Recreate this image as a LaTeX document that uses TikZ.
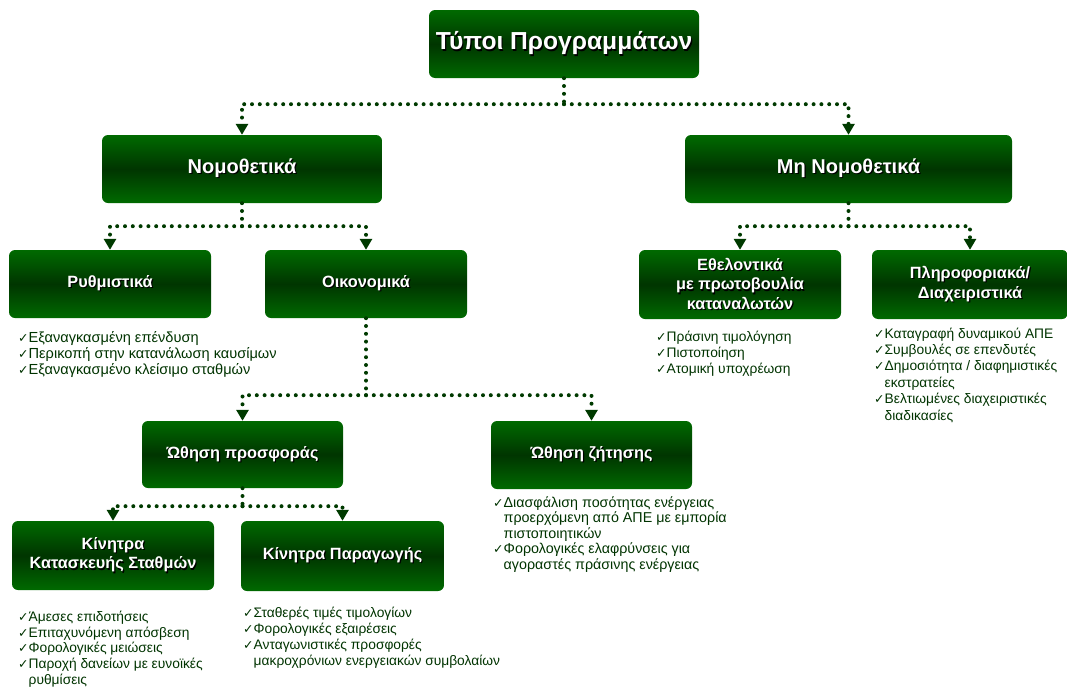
\documentclass[tikz,border=0pt]{standalone}
\usepackage{fontspec}
\setmainfont{Liberation Sans}
\newfontfamily\dv{DejaVu Sans}
\usetikzlibrary{arrows.meta,calc}
\definecolor{gtop}{HTML}{006A00}
\definecolor{gmid}{HTML}{003500}
\definecolor{gtxt}{HTML}{003300}
\definecolor{gdot}{HTML}{003A00}
\newcommand{\sh}[1]{\leavevmode\rlap{\kern1.2pt\raisebox{-1.2pt}{\color{black}#1}}#1}
\newcommand{\ck}{{\dv\fontsize{12.5}{16}\selectfont ✓}}
\newcommand{\ind}{\phantom{\ck}}
\tikzset{
  gbox/.style={rounded corners=6pt, top color=gtop, bottom color=gtop, middle color=gmid,
    text=white, font=\bfseries, align=center, inner sep=0pt},
  dotline/.style={gdot, line width=4pt, line cap=round, dash pattern=on 0pt off 7.8pt,
    -{Triangle[width=12pt,length=11pt,line cap=butt,sep=0pt]}},
  dotseg/.style={gdot, line width=4pt, line cap=round, dash pattern=on 0pt off 7.8pt},
  lst/.style={anchor=north west, align=left, text=gtxt, inner sep=0pt,
    font=\fontsize{13.8}{16}\selectfont},
  sfont/.style={font=\bfseries\fontsize{16.3}{19.5}\selectfont}
}
\begin{document}
\begin{tikzpicture}[x=1pt,y=-1pt]
\useasboundingbox (0,0) rectangle (1067,688);
% boxes
\node[gbox, minimum width=270pt, minimum height=68pt, font=\bfseries\fontsize{24.6}{28}\selectfont] (top) at (564,44) {\sh{Τύποι Προγραμμάτων}};
\node[gbox, minimum width=280pt, minimum height=68pt, font=\bfseries\fontsize{20}{24}\selectfont] (nomo) at (242,169) {\sh{Νομοθετικά}};
\node[gbox, minimum width=327pt, minimum height=68pt, font=\bfseries\fontsize{20}{24}\selectfont] (mnomo) at (848.5,169) {\sh{Μη Νομοθετικά}};
\node[gbox, minimum width=202pt, minimum height=68pt, sfont] (ryth) at (110,284) {\sh{Ρυθμιστικά}};
\node[gbox, minimum width=202pt, minimum height=68pt, sfont] (oik) at (366,284) {\sh{Οικονομικά}};
\node[gbox, minimum width=202pt, minimum height=69pt, sfont] (ethel) at (740,284.5) {\sh{Εθελοντικά}\\\sh{με πρωτοβουλία}\\\sh{καταναλωτών}};
\node[gbox, minimum width=196pt, minimum height=69pt, sfont] (pliro) at (970,284.5) {\sh{Πληροφοριακά/}\\\sh{Διαχειριστικά}};
\node[gbox, minimum width=201pt, minimum height=67pt, sfont] (prosf) at (242.5,454.5) {\sh{Ώθηση προσφοράς}};
\node[gbox, minimum width=201pt, minimum height=68pt, sfont] (zit) at (591.5,455) {\sh{Ώθηση ζήτησης}};
\node[gbox, minimum width=202pt, minimum height=69pt, sfont] (kat) at (113,555.5) {\sh{Κίνητρα}\\\sh{Κατασκευής Σταθμών}};
\node[gbox, minimum width=203pt, minimum height=70pt, sfont] (par) at (342.5,556) {\sh{Κίνητρα Παραγωγής}};
% connectors
\coordinate (j1) at ($(top.south)+(0,26)$);
\draw[dotseg] (top.south) -- (j1);
\draw[dotline] (j1) -| (nomo.north);
\draw[dotline] (j1) -| (mnomo.north);
\coordinate (j2) at ($(nomo.south)+(0,23)$);
\draw[dotseg] (nomo.south) -- (j2);
\draw[dotline] (j2) -| (ryth.north);
\draw[dotline] (j2) -| (oik.north);
\coordinate (j3) at ($(mnomo.south)+(0,23)$);
\draw[dotseg] (mnomo.south) -- (j3);
\draw[dotline] (j3) -| (ethel.north);
\draw[dotline] (j3) -| (pliro.north);
\coordinate (j4) at ($(oik.south)+(0,77)$);
\draw[dotseg] (oik.south) -- (j4);
\draw[dotline] (j4) -| (prosf.north);
\draw[dotline] (j4) -| (zit.north);
\coordinate (j5) at ($(prosf.south)+(0,18)$);
\draw[dotseg] (prosf.south) -- (j5);
\draw[dotline] (j5) -| (kat.north);
\draw[dotline] (j5) -| (par.north);
% lists
\node[lst, font=\fontsize{14.6}{16}\selectfont] (l1) at (18,331) {\ck Εξαναγκασμένη επένδυση\\\ck Περικοπή στην κατανάλωση καυσίμων\\\ck Εξαναγκασμένο κλείσιμο σταθμών};
\node[lst] (l2) at (656,331) {\ck Πράσινη τιμολόγηση\\\ck Πιστοποίηση\\\ck Ατομική υποχρέωση};
\node[lst, font=\fontsize{13.8}{16.4}\selectfont] (l3) at (874,327.5) {\ck Καταγραφή δυναμικού ΑΠΕ\\\ck Συμβουλές σε επενδυτές\\\ck Δημοσιότητα / διαφημιστικές\\\ind εκστρατείες\\\ck Βελτιωμένες διαχειριστικές\\\ind διαδικασίες};
\node[lst, font=\fontsize{14.3}{15.4}\selectfont] (l4) at (493,496.5) {\ck Διασφάλιση ποσότητας ενέργειας\\\ind προερχόμενη από ΑΠΕ με εμπορία\\\ind πιστοποιητικών\\\ck Φορολογικές ελαφρύνσεις για\\\ind αγοραστές πράσινης ενέργειας};
\node[lst, font=\fontsize{13.8}{15.6}\selectfont] (l5) at (18,611) {\ck Άμεσες επιδοτήσεις\\\ck Επιταχυνόμενη απόσβεση\\\ck Φορολογικές μειώσεις\\\ck Παροχή δανείων με ευνοϊκές\\\ind ρυθμίσεις};
\node[lst] (l6) at (243,607) {\ck Σταθερές τιμές τιμολογίων\\\ck Φορολογικές εξαιρέσεις\\\ck Ανταγωνιστικές προσφορές\\\ind μακροχρόνιων ενεργειακών συμβολαίων};
\end{tikzpicture}
\end{document}
